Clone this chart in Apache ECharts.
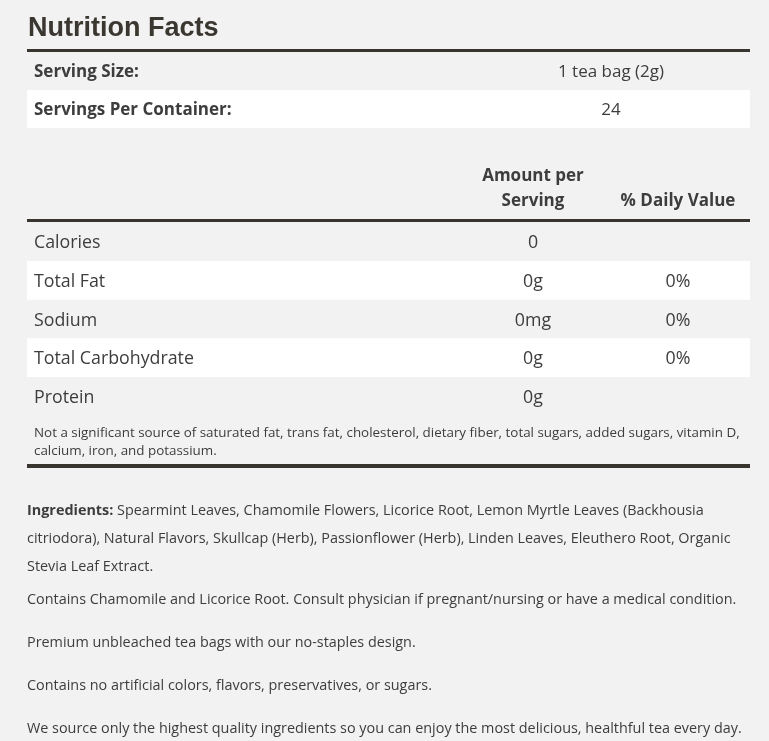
<!DOCTYPE html>
<html>
<head>
<meta charset="utf-8">
<script src="https://cdn.jsdelivr.net/npm/echarts@6/dist/echarts.min.js"></script>
<style>
  html, body { margin: 0; padding: 0; background: #f2f2f2; }
  #main { width: 769px; height: 741px; }
</style>
</head>
<body>
<div id="main"></div>
<script>
// label content
var title = 'Nutrition Facts';
var servingLabels = ['Serving Size:', 'Servings Per Container:'];
var servingValues = ['1 tea bag (2g)', '24'];
var columnHeaders = ['Amount per\nServing', '% Daily Value'];
var nutrients = ['Calories', 'Total Fat', 'Sodium', 'Total Carbohydrate', 'Protein'];
var amounts = ['0', '0g', '0mg', '0g', '0g'];
var dailyValues = ['', '0%', '0%', '0%', ''];
var footnoteLines = [
    'Not a significant source of saturated fat, trans fat, cholesterol, dietary fiber, total sugars, added sugars, vitamin D,',
    'calcium, iron, and potassium.'
];
var ingredientsLabel = 'Ingredients:';
var ingredientsLines = [
    ' Spearmint Leaves, Chamomile Flowers, Licorice Root, Lemon Myrtle Leaves (Backhousia',
    'citriodora), Natural Flavors, Skullcap (Herb), Passionflower (Herb), Linden Leaves, Eleuthero Root, Organic',
    'Stevia Leaf Extract.'
];
var notes = [
    'Contains Chamomile and Licorice Root. Consult physician if pregnant/nursing or have a medical condition.',
    'Premium unbleached tea bags with our no-staples design.',
    'Contains no artificial colors, flavors, preservatives, or sugars.',
    'We source only the highest quality ingredients so you can enjoy the most delicious, healthful tea every day.'
];

var chart = echarts.init(document.getElementById('main'));

var FONT = 'Open Sans';
var TXT = '#3d3d3d';
var RULE = '#38352f';
var left = 27, right = 750;
var amountX = 533, dvX = 678;
var rowH = 38.6;
var BODY = 14.4;

var g = [];

function text(x, y, str, opt) {
    opt = opt || {};
    g.push({
        type: 'text',
        x: x, y: y,
        style: {
            text: str,
            fill: opt.fill || TXT,
            font: (opt.weight || 'normal') + ' ' + (opt.size || 17) + 'px ' + (opt.family || FONT),
            align: opt.align || 'left',
            verticalAlign: 'middle',
            lineHeight: opt.lineHeight,
            rich: opt.rich
        }
    });
}
function rule(y, h) {
    g.push({ type: 'rect', shape: { x: left, y: y, width: right - left, height: h }, style: { fill: RULE } });
}
function band(y, h) {
    g.push({ type: 'rect', shape: { x: left, y: y, width: right - left, height: h }, style: { fill: '#ffffff' } });
}

// title
text(28, 28.5, title, { family: 'Liberation Sans, Arial', weight: 'bold', size: 27, fill: '#3a3630' });
rule(49, 3);

// serving block
var servTop = 52;
servingLabels.forEach(function (lab, i) {
    var top = servTop + i * 38;
    if (i % 2 === 1) band(top, 38);
    text(34, top + 20.5, lab, { weight: 'bold', size: 17 });
    text(611, top + 20.5, servingValues[i], { align: 'center', size: 17 });
});

// column headers
text(amountX, 188.5, columnHeaders[0], { weight: 'bold', size: 17, align: 'center', lineHeight: 25 });
text(dvX, 201.5, columnHeaders[1], { weight: 'bold', size: 17, align: 'center' });
rule(219, 3);

// nutrient rows
var rowsTop = 222.5;
nutrients.forEach(function (name, i) {
    var top = rowsTop + i * rowH;
    if (i % 2 === 1) band(top, rowH);
    var cy = top + rowH / 2 + 1.5;
    text(34, cy, name, { size: 17.8 });
    text(amountX, cy, amounts[i], { size: 17.8, align: 'center' });
    if (dailyValues[i]) text(dvX, cy, dailyValues[i], { size: 17.8, align: 'center' });
});

// footnote
footnoteLines.forEach(function (ln, i) {
    text(34, 433 + i * 18, ln, { size: 13.4 });
});
rule(464, 4);

// ingredients
ingredientsLines.forEach(function (ln, i) {
    var y = 510.5 + i * 28;
    if (i === 0) {
        text(27, y, '{b|' + ingredientsLabel + '}{r|' + ln + '}', {
            size: BODY,
            rich: {
                b: { font: 'bold ' + BODY + 'px ' + FONT, fill: TXT },
                r: { font: 'normal ' + BODY + 'px ' + FONT, fill: TXT }
            }
        });
    } else {
        text(27, y, ln, { size: BODY });
    }
});

// notes
notes.forEach(function (ln, i) {
    text(27, 599.5 + i * 43, ln, { size: BODY });
});

chart.setOption({
    backgroundColor: '#f2f2f2',
    animation: false,
    graphic: { elements: g }
});
</script>
</body>
</html>
